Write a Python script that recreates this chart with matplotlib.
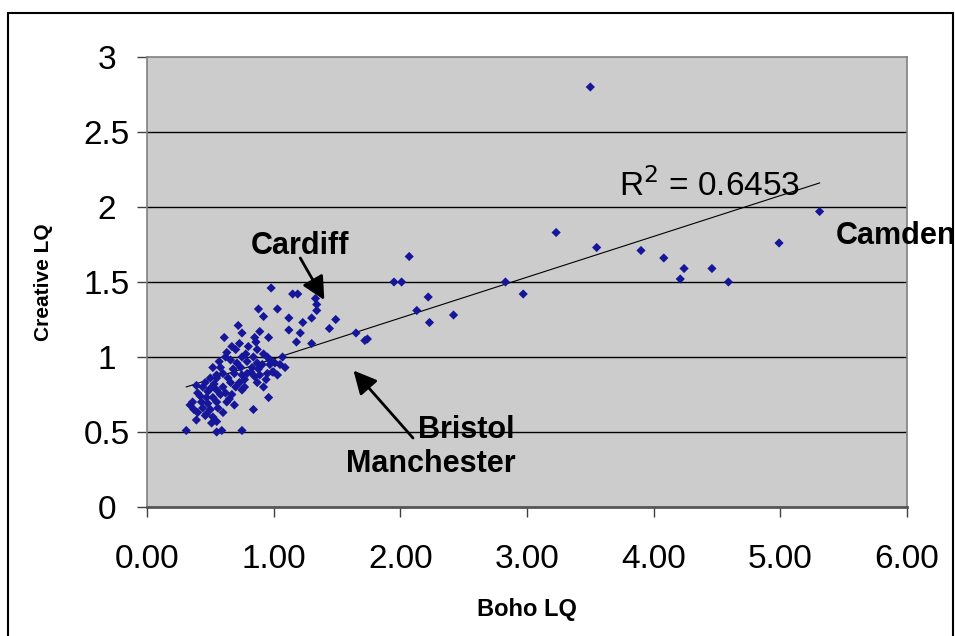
import matplotlib
matplotlib.use('Agg')
import matplotlib.pyplot as plt
import matplotlib.patches as patches
import numpy as np

plt.rcParams['font.family'] = ['Liberation Sans', 'DejaVu Sans']

# outlying authorities (right hand side)
outer_x = [3.50, 5.31, 4.99, 4.59, 4.46, 4.24, 4.21, 4.08, 3.90, 3.55, 3.23, 2.97,
           2.83, 2.42, 2.23, 2.22, 2.13, 2.07, 1.95, 2.01, 1.65, 1.72, 1.74]
outer_y = [2.80, 1.97, 1.76, 1.50, 1.59, 1.59, 1.52, 1.66, 1.71, 1.73, 1.83, 1.42,
           1.50, 1.28, 1.23, 1.40, 1.31, 1.67, 1.50, 1.50, 1.16, 1.11, 1.12]

# upper part of the cluster
upper_x = [0.98, 1.15, 1.19, 1.33, 1.34, 1.34, 1.30, 1.23, 1.49, 1.44, 0.88, 1.03,
           0.92, 1.12, 0.72, 0.89, 1.12, 1.21, 0.75, 0.96, 0.61, 1.18, 1.30, 0.85]
upper_y = [1.46, 1.42, 1.42, 1.39, 1.35, 1.31, 1.26, 1.23, 1.25, 1.19, 1.32, 1.32,
           1.27, 1.26, 1.21, 1.17, 1.18, 1.16, 1.16, 1.13, 1.13, 1.10, 1.09, 1.13]

# dense cluster
dense_x = [0.67, 0.73, 0.80, 0.87, 0.95, 0.97, 0.52, 0.58, 0.62, 0.66, 0.71, 0.75,
           0.79, 0.83, 0.87, 0.91, 0.97, 1.01, 1.07, 1.09, 1.03, 0.50, 0.55, 0.60,
           0.64, 0.69, 0.75, 0.79, 0.85, 0.89, 0.95, 0.99, 0.66, 0.73, 0.87, 0.39,
           0.44, 0.50, 0.55, 0.40, 0.47, 0.52, 0.58, 0.67, 0.75, 0.77, 0.92, 0.36,
           0.43, 0.48, 0.55, 0.63, 0.69, 0.34, 0.44, 0.40, 0.50, 0.96, 0.39, 0.46,
           0.52, 0.51, 0.55, 0.84, 0.31, 0.55, 0.59, 0.75,
           0.63, 0.70, 0.78, 0.84, 0.92, 0.57, 0.68, 0.74, 0.82, 0.46, 0.53, 0.60,
           0.62, 0.42, 0.65, 0.56, 0.47, 0.37, 0.60, 0.88, 1.00, 1.05, 0.94, 0.77,
           0.70, 0.86, 0.55, 0.48]
dense_y = [1.07, 1.09, 1.07, 1.05, 1.00, 0.98, 0.93, 0.93, 1.00, 0.98, 0.96, 1.00,
           0.97, 0.93, 0.96, 0.95, 0.95, 0.96, 1.00, 0.93, 0.88, 0.86, 0.88, 0.89,
           0.86, 0.89, 0.88, 0.89, 0.87, 0.88, 0.89, 0.90, 0.83, 0.83, 0.83, 0.81,
           0.80, 0.79, 0.78, 0.76, 0.73, 0.73, 0.75, 0.75, 0.78, 0.80, 0.80, 0.70,
           0.70, 0.69, 0.70, 0.70, 0.68, 0.68, 0.66, 0.63, 0.65, 0.73, 0.58, 0.61,
           0.60, 0.56, 0.57, 0.65, 0.51, 0.50, 0.51, 0.51,
           1.03, 1.05, 1.02, 1.00, 1.02, 0.97, 0.92, 0.93, 0.90, 0.83, 0.82, 0.80,
           0.76, 0.74, 0.72, 0.66, 0.62, 0.65, 0.63, 0.92, 0.90, 0.95, 0.85, 0.85,
           0.80, 1.10, 0.86, 0.77]

boho_lq = np.array(outer_x + upper_x + dense_x)
creative_lq = np.array(outer_y + upper_y + dense_y)

# linear trendline as shown on the chart
trend_slope = 0.272
trend_intercept = 0.716
r_squared = 0.6453

x_ticks = [0, 1, 2, 3, 4, 5, 6]
y_ticks = [0, 0.5, 1, 1.5, 2, 2.5, 3]
y_tick_labels = ['0', '0.5', '1', '1.5', '2', '2.5', '3']

fig = plt.figure(figsize=(9.55, 6.36), dpi=100)
ax = fig.add_axes([147/955, 1 - 507/636, 760/955, 450/636])
ax.set_facecolor('#cccccc')

# outer frame of the chart area
frame = patches.Rectangle((8/955, -0.05), 945/955, 1 - 13/636 + 0.05,
                          transform=fig.transFigure, fill=False,
                          edgecolor='black', linewidth=1.5)
fig.patches.append(frame)

for yv in y_ticks[1:-1]:
    ax.axhline(yv, color='black', linewidth=1, zorder=1)

ax.scatter(boho_lq, creative_lq, marker='D', s=22, color='#16169a',
           edgecolors='none', zorder=3)

tx = np.array([boho_lq.min(), boho_lq.max()])
ax.plot(tx, trend_slope * tx + trend_intercept, color='black', linewidth=0.8, zorder=2)

ax.text(3.73, 2.07, 'R$^2$ = %.4f' % r_squared, fontsize=24, zorder=4)

bold = dict(fontsize=22, fontweight='bold', zorder=5)
ax.text(0.82, 1.69, 'Cardiff', **bold)
ax.text(2.14, 0.46, 'Bristol', **bold)
ax.text(1.57, 0.23, 'Manchester', **bold)
ax.text(5.44, 1.75, 'Camden', clip_on=False, **bold)

arrow = dict(arrowstyle='-|>', mutation_scale=35, linewidth=2, color='black',
             shrinkA=0, shrinkB=0)
ax.annotate('', xy=(1.40, 1.38), xytext=(1.21, 1.66), arrowprops=arrow, zorder=5)
ax.annotate('', xy=(1.63, 0.91), xytext=(2.10, 0.46), arrowprops=arrow, zorder=5)

ax.set_xlim(0, 6)
ax.set_ylim(0, 3)
ax.set_xticks(x_ticks)
ax.set_xticklabels(['%.2f' % v for v in x_ticks])
ax.set_yticks(y_ticks)
ax.set_yticklabels(y_tick_labels)
for lab in ax.get_yticklabels():
    lab.set_horizontalalignment('center')

ax.tick_params(axis='both', labelsize=24, length=7, width=1, color='#404040')
ax.tick_params(axis='y', pad=22)
ax.tick_params(axis='x', pad=20)

for s in ['top', 'right', 'left']:
    ax.spines[s].set_color('#808080')
    ax.spines[s].set_linewidth(1.2)
ax.spines['bottom'].set_color('#555555')
ax.spines['bottom'].set_linewidth(2)

ax.set_xlabel('Boho LQ', fontsize=17, fontweight='bold', labelpad=16)
ax.set_ylabel('Creative LQ', fontsize=15, fontweight='bold', labelpad=22)

fig.savefig('out.png', dpi=100)
